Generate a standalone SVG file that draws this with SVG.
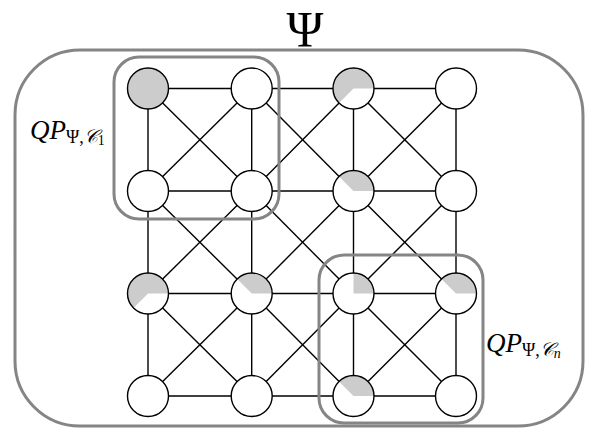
<svg xmlns="http://www.w3.org/2000/svg" xmlns:xlink="http://www.w3.org/1999/xlink" width="593" height="433" viewBox="0 0 593 433">
<style>
.frame{fill:none;stroke:#858585;stroke-width:3}
.edge line{stroke:#000;stroke-width:1.4}
.bg{fill:#fff}
.sh{fill:#cccccc;stroke:none}
.ol{fill:none;stroke:#000;stroke-width:1.4}
.lbl{font-family:"Liberation Serif","DejaVu Serif",serif;fill:#000}
</style>
<defs>
<path id="s135" d="M0 0 L20.5 0 A20.5 20.5 0 0 0 -14.5 -14.5 Z"/>
<path id="s225" d="M0 0 L20.5 0 A20.5 20.5 0 1 0 -14.5 14.5 Z"/>
<path id="s90" d="M0 0 L20.5 0 A20.5 20.5 0 0 0 0 -20.5 Z"/>
</defs>
<rect width="593" height="433" fill="#fff"/>
<g id="psi-frame">
<rect class="frame" x="15" y="50" width="568" height="376" rx="65" ry="65"/>
<text class="lbl" x="305" y="46" font-size="50" text-anchor="middle">Ψ</text>
</g>
<g id="edges" class="edge">
<line x1="148" y1="88.5" x2="251.7" y2="88.5"/><line x1="251.7" y1="88.5" x2="353.5" y2="88.5"/><line x1="353.5" y1="88.5" x2="456" y2="88.5"/>
<line x1="148" y1="191" x2="251.7" y2="191"/><line x1="251.7" y1="191" x2="353.5" y2="191"/><line x1="353.5" y1="191" x2="456" y2="191"/>
<line x1="148" y1="293.5" x2="251.7" y2="293.5"/><line x1="251.7" y1="293.5" x2="353.5" y2="293.5"/><line x1="353.5" y1="293.5" x2="456" y2="293.5"/>
<line x1="148" y1="396" x2="251.7" y2="396"/><line x1="251.7" y1="396" x2="353.5" y2="396"/><line x1="353.5" y1="396" x2="456" y2="396"/>
<line x1="148" y1="88.5" x2="148" y2="191"/><line x1="148" y1="191" x2="148" y2="293.5"/><line x1="148" y1="293.5" x2="148" y2="396"/>
<line x1="251.7" y1="88.5" x2="251.7" y2="191"/><line x1="251.7" y1="191" x2="251.7" y2="293.5"/><line x1="251.7" y1="293.5" x2="251.7" y2="396"/>
<line x1="353.5" y1="88.5" x2="353.5" y2="191"/><line x1="353.5" y1="191" x2="353.5" y2="293.5"/><line x1="353.5" y1="293.5" x2="353.5" y2="396"/>
<line x1="456" y1="88.5" x2="456" y2="191"/><line x1="456" y1="191" x2="456" y2="293.5"/><line x1="456" y1="293.5" x2="456" y2="396"/>
<line x1="148" y1="88.5" x2="251.7" y2="191"/><line x1="251.7" y1="88.5" x2="148" y2="191"/>
<line x1="251.7" y1="88.5" x2="353.5" y2="191"/><line x1="353.5" y1="88.5" x2="251.7" y2="191"/>
<line x1="353.5" y1="88.5" x2="456" y2="191"/><line x1="456" y1="88.5" x2="353.5" y2="191"/>
<line x1="148" y1="191" x2="251.7" y2="293.5"/><line x1="251.7" y1="191" x2="148" y2="293.5"/>
<line x1="251.7" y1="191" x2="353.5" y2="293.5"/><line x1="353.5" y1="191" x2="251.7" y2="293.5"/>
<line x1="353.5" y1="191" x2="456" y2="293.5"/><line x1="456" y1="191" x2="353.5" y2="293.5"/>
<line x1="148" y1="293.5" x2="251.7" y2="396"/><line x1="251.7" y1="293.5" x2="148" y2="396"/>
<line x1="251.7" y1="293.5" x2="353.5" y2="396"/><line x1="353.5" y1="293.5" x2="251.7" y2="396"/>
<line x1="353.5" y1="293.5" x2="456" y2="396"/><line x1="456" y1="293.5" x2="353.5" y2="396"/>
</g>
<g id="n00" transform="translate(148,88.5)"><circle r="20.5" class="sh"/><circle r="20.5" class="ol"/></g>
<g id="n10" transform="translate(251.7,88.5)"><circle r="20.5" class="bg"/><circle r="20.5" class="ol"/></g>
<g id="n20" transform="translate(353.5,88.5)"><circle r="20.5" class="bg"/><use xlink:href="#s225" class="sh"/><circle r="20.5" class="ol"/></g>
<g id="n30" transform="translate(456,88.5)"><circle r="20.5" class="bg"/><circle r="20.5" class="ol"/></g>
<g id="n01" transform="translate(148,191)"><circle r="20.5" class="bg"/><circle r="20.5" class="ol"/></g>
<g id="n11" transform="translate(251.7,191)"><circle r="20.5" class="bg"/><circle r="20.5" class="ol"/></g>
<g id="n21" transform="translate(353.5,191)"><circle r="20.5" class="bg"/><use xlink:href="#s135" class="sh"/><circle r="20.5" class="ol"/></g>
<g id="n31" transform="translate(456,191)"><circle r="20.5" class="bg"/><circle r="20.5" class="ol"/></g>
<g id="n02" transform="translate(148,293.5)"><circle r="20.5" class="bg"/><use xlink:href="#s225" class="sh"/><circle r="20.5" class="ol"/></g>
<g id="n12" transform="translate(251.7,293.5)"><circle r="20.5" class="bg"/><use xlink:href="#s135" class="sh"/><circle r="20.5" class="ol"/></g>
<g id="n22" transform="translate(353.5,293.5)"><circle r="20.5" class="bg"/><use xlink:href="#s90" class="sh"/><circle r="20.5" class="ol"/></g>
<g id="n32" transform="translate(456,293.5)"><circle r="20.5" class="bg"/><use xlink:href="#s135" class="sh"/><circle r="20.5" class="ol"/></g>
<g id="n03" transform="translate(148,396)"><circle r="20.5" class="bg"/><circle r="20.5" class="ol"/></g>
<g id="n13" transform="translate(251.7,396)"><circle r="20.5" class="bg"/><circle r="20.5" class="ol"/></g>
<g id="n23" transform="translate(353.5,396)"><circle r="20.5" class="bg"/><use xlink:href="#s135" class="sh"/><circle r="20.5" class="ol"/></g>
<g id="n33" transform="translate(456,396)"><circle r="20.5" class="bg"/><circle r="20.5" class="ol"/></g>
<g id="qp1">
<rect class="frame" x="114" y="57" width="165" height="162" rx="25" ry="25"/>
<text class="lbl" x="30" y="139" font-size="27"><tspan font-style="italic">QP</tspan><tspan font-size="18" dy="4">Ψ,</tspan><tspan font-size="19" font-style="italic">𝒞</tspan><tspan font-size="14" dy="2">1</tspan></text>
</g>
<g id="qpn">
<rect class="frame" x="319" y="255" width="164" height="168" rx="25" ry="25"/>
<text class="lbl" x="486" y="352" font-size="27"><tspan font-style="italic">QP</tspan><tspan font-size="18" dy="4">Ψ,</tspan><tspan font-size="19" font-style="italic">𝒞</tspan><tspan font-size="14" dy="2" font-style="italic">n</tspan></text>
</g>
</svg>
